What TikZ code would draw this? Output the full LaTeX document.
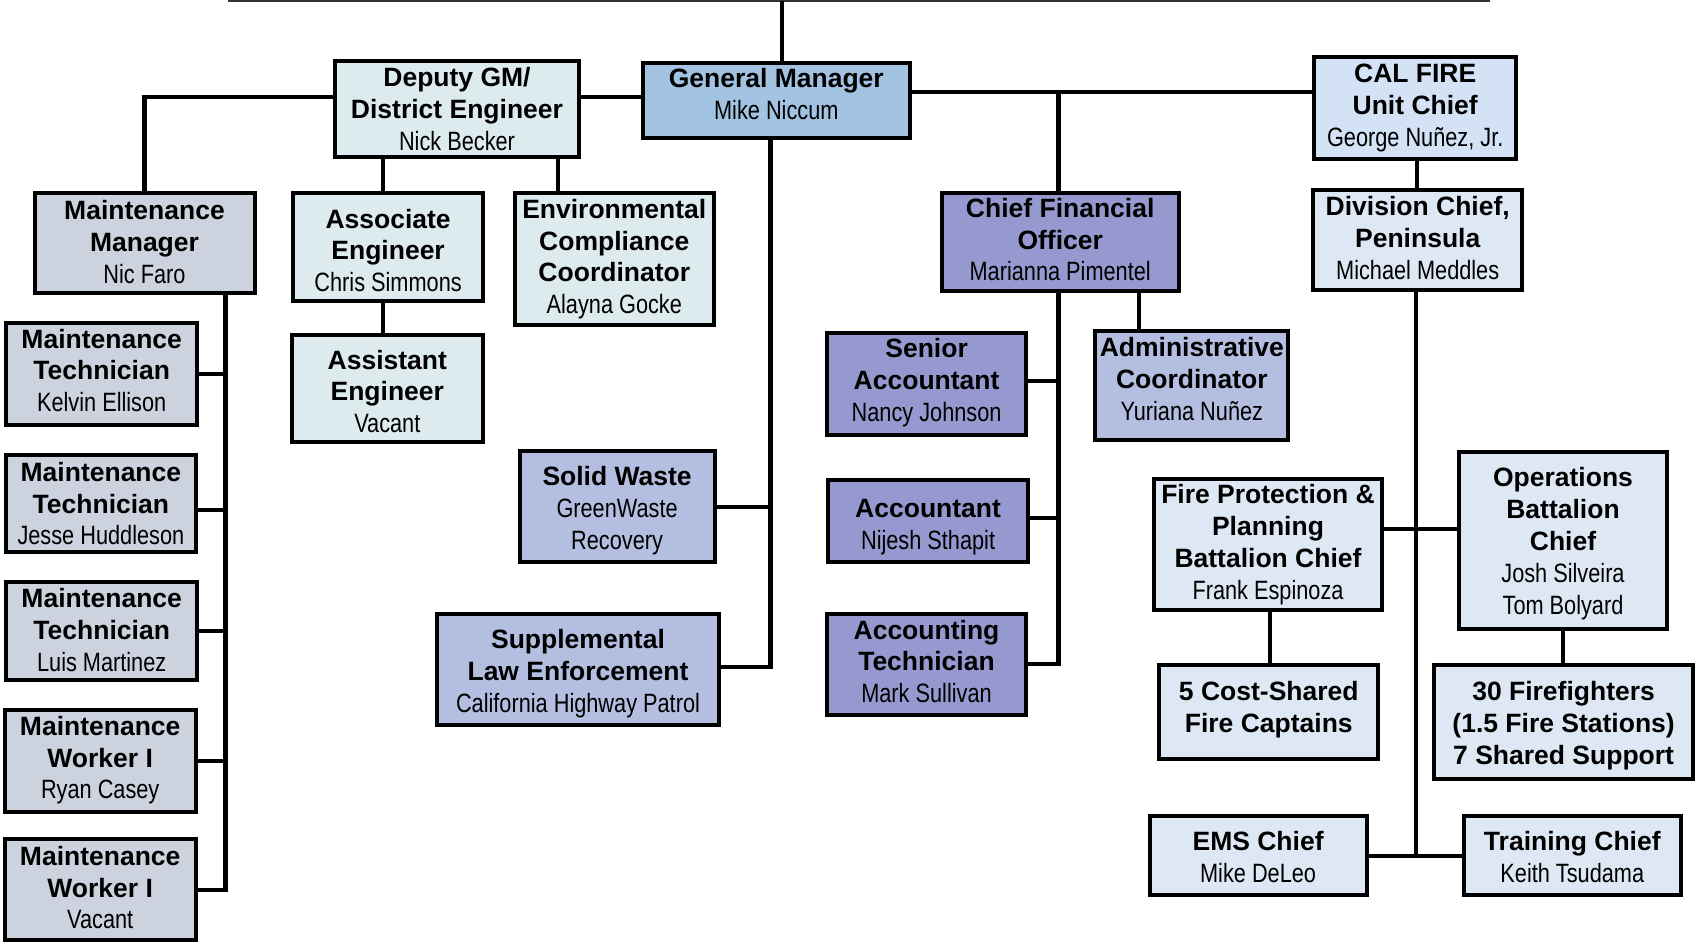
\documentclass[tikz,border=0pt]{standalone}
\usepackage{fontspec}
\setmainfont{Liberation Sans}
\newfontfamily\nm[FakeStretch=0.82]{Liberation Sans}
\newcommand\who[1]{{\nm\mdseries #1}}
\definecolor{cyl}{HTML}{DDEAEE}
\definecolor{gmc}{HTML}{A2C4E2}
\definecolor{mnt}{HTML}{CDD2DF}
\definecolor{calc}{HTML}{D3E3F5}
\definecolor{fir}{HTML}{DEE8F4}
\definecolor{prp}{HTML}{9699CF}
\definecolor{lav}{HTML}{B4BEE0}
% name, x, y, min width, min height, fill, text shift, text
\newcommand\bx[8]{%
  \node[box,fill=#6,minimum width=#4,minimum height=#5] (#1) at (#2,#3) {};
  \node[txt,yshift=#7] (#1t) at (#1.center) {#8};}
\begin{document}
\begin{tikzpicture}[x=0.5pt,y=-0.5pt,
  box/.style={draw=black, line width=2pt, inner sep=0pt},
  txt/.style={align=center, inner sep=0pt,
    font=\fontsize{13.25}{15.9}\selectfont\bfseries},
  ln/.style={line width=2.1pt}]
\useasboundingbox (0,0) rectangle (1696,943);
% boxes
\bx{dep}{457}{109}{122pt}{48pt}{cyl}{0pt}{Deputy GM/\\District Engineer\\\who{Nick Becker}}
\bx{gm}{776.3}{100.5}{133.75pt}{37.5pt}{gmc}{3.2pt}{General Manager\\\who{Mike Niccum}}
\bx{cal}{1415.2}{107.9}{101.2pt}{50.85pt}{calc}{0pt}{CAL FIRE\\Unit Chief\\\who{George Nuñez, Jr.}}
\bx{mm}{144.5}{243}{110pt}{50pt}{mnt}{0.5pt}{Maintenance\\Manager\\\who{Nic Faro}}
\bx{assoc}{388.1}{247.2}{95.2pt}{54.15pt}{cyl}{-1.6pt}{Associate\\Engineer\\\who{Chris Simmons}}
\bx{env}{614.3}{259.2}{99.75pt}{66.15pt}{cyl}{0pt}{Environmental\\Compliance\\Coordinator\\\who{Alayna Gocke}}
\bx{cfo}{1060.2}{241.9}{118.45pt}{48.85pt}{prp}{1.1pt}{Chief Financial\\Officer\\\who{Marianna Pimentel}}
\bx{div}{1417.7}{240.2}{104.65pt}{49.85pt}{fir}{1.1pt}{Division Chief,\\Peninsula\\\who{Michael Meddles}}
\bx{mt1}{101.7}{373.7}{95.35pt}{51pt}{mnt}{1.6pt}{Maintenance\\Technician\\\who{Kelvin Ellison}}
\bx{mt2}{100.9}{503.7}{95.3pt}{48.35pt}{mnt}{0pt}{Maintenance\\Technician\\\who{Jesse Huddleson}}
\bx{mt3}{101.7}{630.8}{95.35pt}{48.75pt}{mnt}{0.4pt}{Maintenance\\Technician\\\who{Luis Martinez}}
\bx{mw1}{100.2}{761.3}{95.3pt}{51pt}{mnt}{0.5pt}{Maintenance\\Worker I\\\who{Ryan Casey}}
\bx{mw2}{100.2}{889.2}{95.3pt}{50.5pt}{mnt}{0.8pt}{Maintenance\\Worker I\\\who{Vacant}}
\bx{asst}{387.3}{388.8}{95.3pt}{53.5pt}{cyl}{-1.35pt}{Assistant\\Engineer\\\who{Vacant}}
\bx{sw}{617.1}{506.7}{97.6pt}{55.65pt}{lav}{-1.9pt}{Solid Waste\\\who{GreenWaste}\\\who{Recovery}}
\bx{sup}{578}{669.3}{140.85pt}{55.55pt}{lav}{-2.1pt}{Supplemental\\Law Enforcement\\\who{California Highway Patrol}}
\bx{sa}{926.6}{383.7}{99.65pt}{51pt}{prp}{0.5pt}{Senior\\Accountant\\\who{Nancy Johnson}}
\bx{acct}{928.1}{521}{100.1pt}{41.3pt}{prp}{-3pt}{Accountant\\\who{Nijesh Sthapit}}
\bx{at}{926.5}{664.7}{99.5pt}{50.35pt}{prp}{1.6pt}{Accounting\\Technician\\\who{Mark Sullivan}}
\bx{admin}{1191.8}{385.8}{96.45pt}{54.5pt}{lav}{3.5pt}{Administrative\\Coordinator\\\who{Yuriana Nuñez}}
\bx{fp}{1268}{544.5}{114.2pt}{65.2pt}{fir}{0pt}{Fire Protection \&\\Planning\\Battalion Chief\\\who{Frank Espinoza}}
\bx{ops}{1563}{540.4}{104.3pt}{88.35pt}{fir}{-1.6pt}{Operations\\Battalion\\Chief\\\who{Josh Silveira}\\\who{Tom Bolyard}}
\bx{cost}{1268.8}{712.2}{109.65pt}{46.85pt}{fir}{1.35pt}{5 Cost-Shared\\Fire Captains}
\bx{ff}{1563.6}{722.2}{129.2pt}{56.85pt}{fir}{-1.6pt}{30 Firefighters\\(1.5 Fire Stations)\\7 Shared Support}
\bx{ems}{1258.1}{855.8}{108.4pt}{39.5pt}{fir}{-0.5pt}{EMS Chief\\\who{Mike DeLeo}}
\bx{tr}{1572.3}{855.8}{108.25pt}{39.5pt}{fir}{-0.5pt}{Training Chief\\\who{Keith Tsudama}}
% junction coordinates
\coordinate (tl) at (228,1);
\coordinate (trr) at (1490,1);
\coordinate (topj) at (782,1);
\coordinate (mmsp) at (225.5,890);
\coordinate (gmsp) at (770.5,666.7);
\coordinate (cfoj) at (1058.4,91.7);
\coordinate (cfosp) at (1058.4,664.3);
\coordinate (dsp) at (1416,856);
% connectors
\draw[line width=1.2pt,black!80] (tl) -- (trr);
\draw[ln] (topj) -- (gm.north -| topj);
\draw[ln] (dep.east |- 0,96.7) -- (gm.west |- 0,96.7);
\draw[ln] (dep.west |- 0,96.7) -| (mm.north);
\draw[ln] (dep.south -| 382.7,0) -- (assoc.north -| 382.7,0);
\draw[ln] (assoc.south -| 382.7,0) -- (asst.north -| 382.7,0);
\draw[ln] (dep.south -| 558,0) -- (env.north -| 558,0);
% maintenance spine
\draw[ln] (mm.south -| mmsp) -- (mmsp) -- (mw2.east |- mmsp);
\draw[ln] (mt1.east) -- (mt1.east -| mmsp);
\draw[ln] (mt2.east |- 0,510) -- (mmsp |- 0,510);
\draw[ln] (mt3.east) -- (mt3.east -| mmsp);
\draw[ln] (mw1.east) -- (mw1.east -| mmsp);
% GM spine
\draw[ln] (gm.south -| gmsp) -- (gmsp) -- (sup.east |- gmsp);
\draw[ln] (sw.east) -- (sw.east -| gmsp);
% GM to CAL FIRE and CFO
\draw[ln] (gm.east |- cfoj) -- (cal.west |- cfoj);
\draw[ln] (cfoj) -- (cfo.north -| cfoj);
\draw[ln] (cfo.south -| cfosp) -- (cfosp) -- (at.east |- cfosp);
\draw[ln] (sa.east |- 0,381) -- (cfosp |- 0,381);
\draw[ln] (acct.east |- 0,518.3) -- (cfosp |- 0,518.3);
\draw[ln] (cfo.south -| 1139,0) -- (admin.north -| 1139,0);
% fire side
\draw[ln] (cal.south -| 1417,0) -- (div.north -| 1417,0);
\draw[ln] (div.south -| dsp) -- (dsp);
\draw[ln] (ems.east |- dsp) -- (tr.west |- dsp);
\draw[ln] (fp.east |- 0,528.7) -- (ops.west |- 0,528.7);
\draw[ln] (fp.south -| 1270,0) -- (cost.north -| 1270,0);
\draw[ln] (ops.south) -- (ff.north -| ops.south);
\end{tikzpicture}
\end{document}
